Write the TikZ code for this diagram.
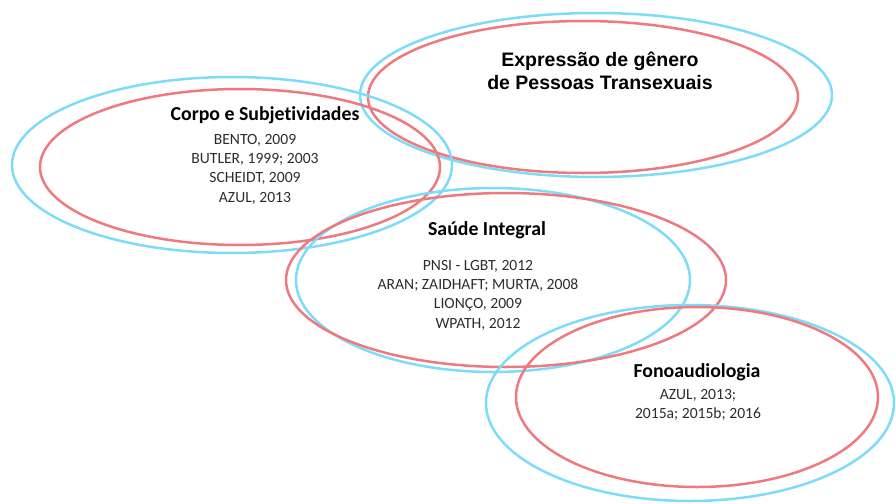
\documentclass[tikz,border=0pt]{standalone}
\usepackage{fontspec}
\setmainfont{Carlito}[Ligatures=NoCommon]
\newfontfamily\arialfont{Liberation Sans}
\usetikzlibrary{positioning}
\definecolor{ringblue}{RGB}{125,220,250}
\definecolor{ringred}{RGB}{238,122,128}
\definecolor{reftext}{RGB}{45,45,45}

\begin{document}
\begin{tikzpicture}[x=1pt, y=-1pt,
  bluering/.style={draw=ringblue, line width=2.5pt},
  redring/.style={draw=ringred, line width=2.5pt},
  title/.style={font=\fontsize{19.8}{22}\selectfont\bfseries, align=center, inner sep=0pt},
  refs/.style={font=\fontsize{15.6}{19.3}\selectfont, text=reftext, align=center, inner sep=0pt}]
\useasboundingbox (0,0) rectangle (896,503);

\draw[bluering] (596,95) ellipse [x radius=236pt, y radius=82pt];
\draw[redring] (583,97) ellipse [x radius=215pt, y radius=76pt];

\draw[bluering] (232,165) ellipse [x radius=220pt, y radius=88pt];
\draw[redring] (240,167) ellipse [x radius=200pt, y radius=78pt];

\draw[bluering] (493,280) ellipse [x radius=197pt, y radius=92pt];
\draw[redring] (506,280) ellipse [x radius=220pt, y radius=87pt];

\draw[bluering] (690,403) ellipse [x radius=204pt, y radius=98pt];
\draw[redring] (697,397) ellipse [x radius=181pt, y radius=90pt];

\node[title, font=\arialfont\fontsize{19.5}{23}\selectfont\bfseries] (expressao) at (600,71) {Expressão de gênero\\de Pessoas Transexuais};

\node[title] (corpo) at (265,115) {Corpo e Subjetividades};
\node[refs] (corporefs) at (255,169) {BENTO, 2009\\BUTLER, 1999; 2003\\SCHEIDT, 2009\\AZUL, 2013};

\node[title] (saude) at (487,230) {Saúde Integral};
\node[refs] (sauderefs) at (478,295) {PNSI - LGBT, 2012\\ARAN; ZAIDHAFT; MURTA, 2008\\LIONÇO, 2009\\WPATH, 2012};

\node[title] (fono) at (697,372) {Fonoaudiologia};
\node[refs] (fonorefs) at (698,405) {AZUL, 2013;\\2015a; 2015b; 2016};

\end{tikzpicture}
\end{document}
